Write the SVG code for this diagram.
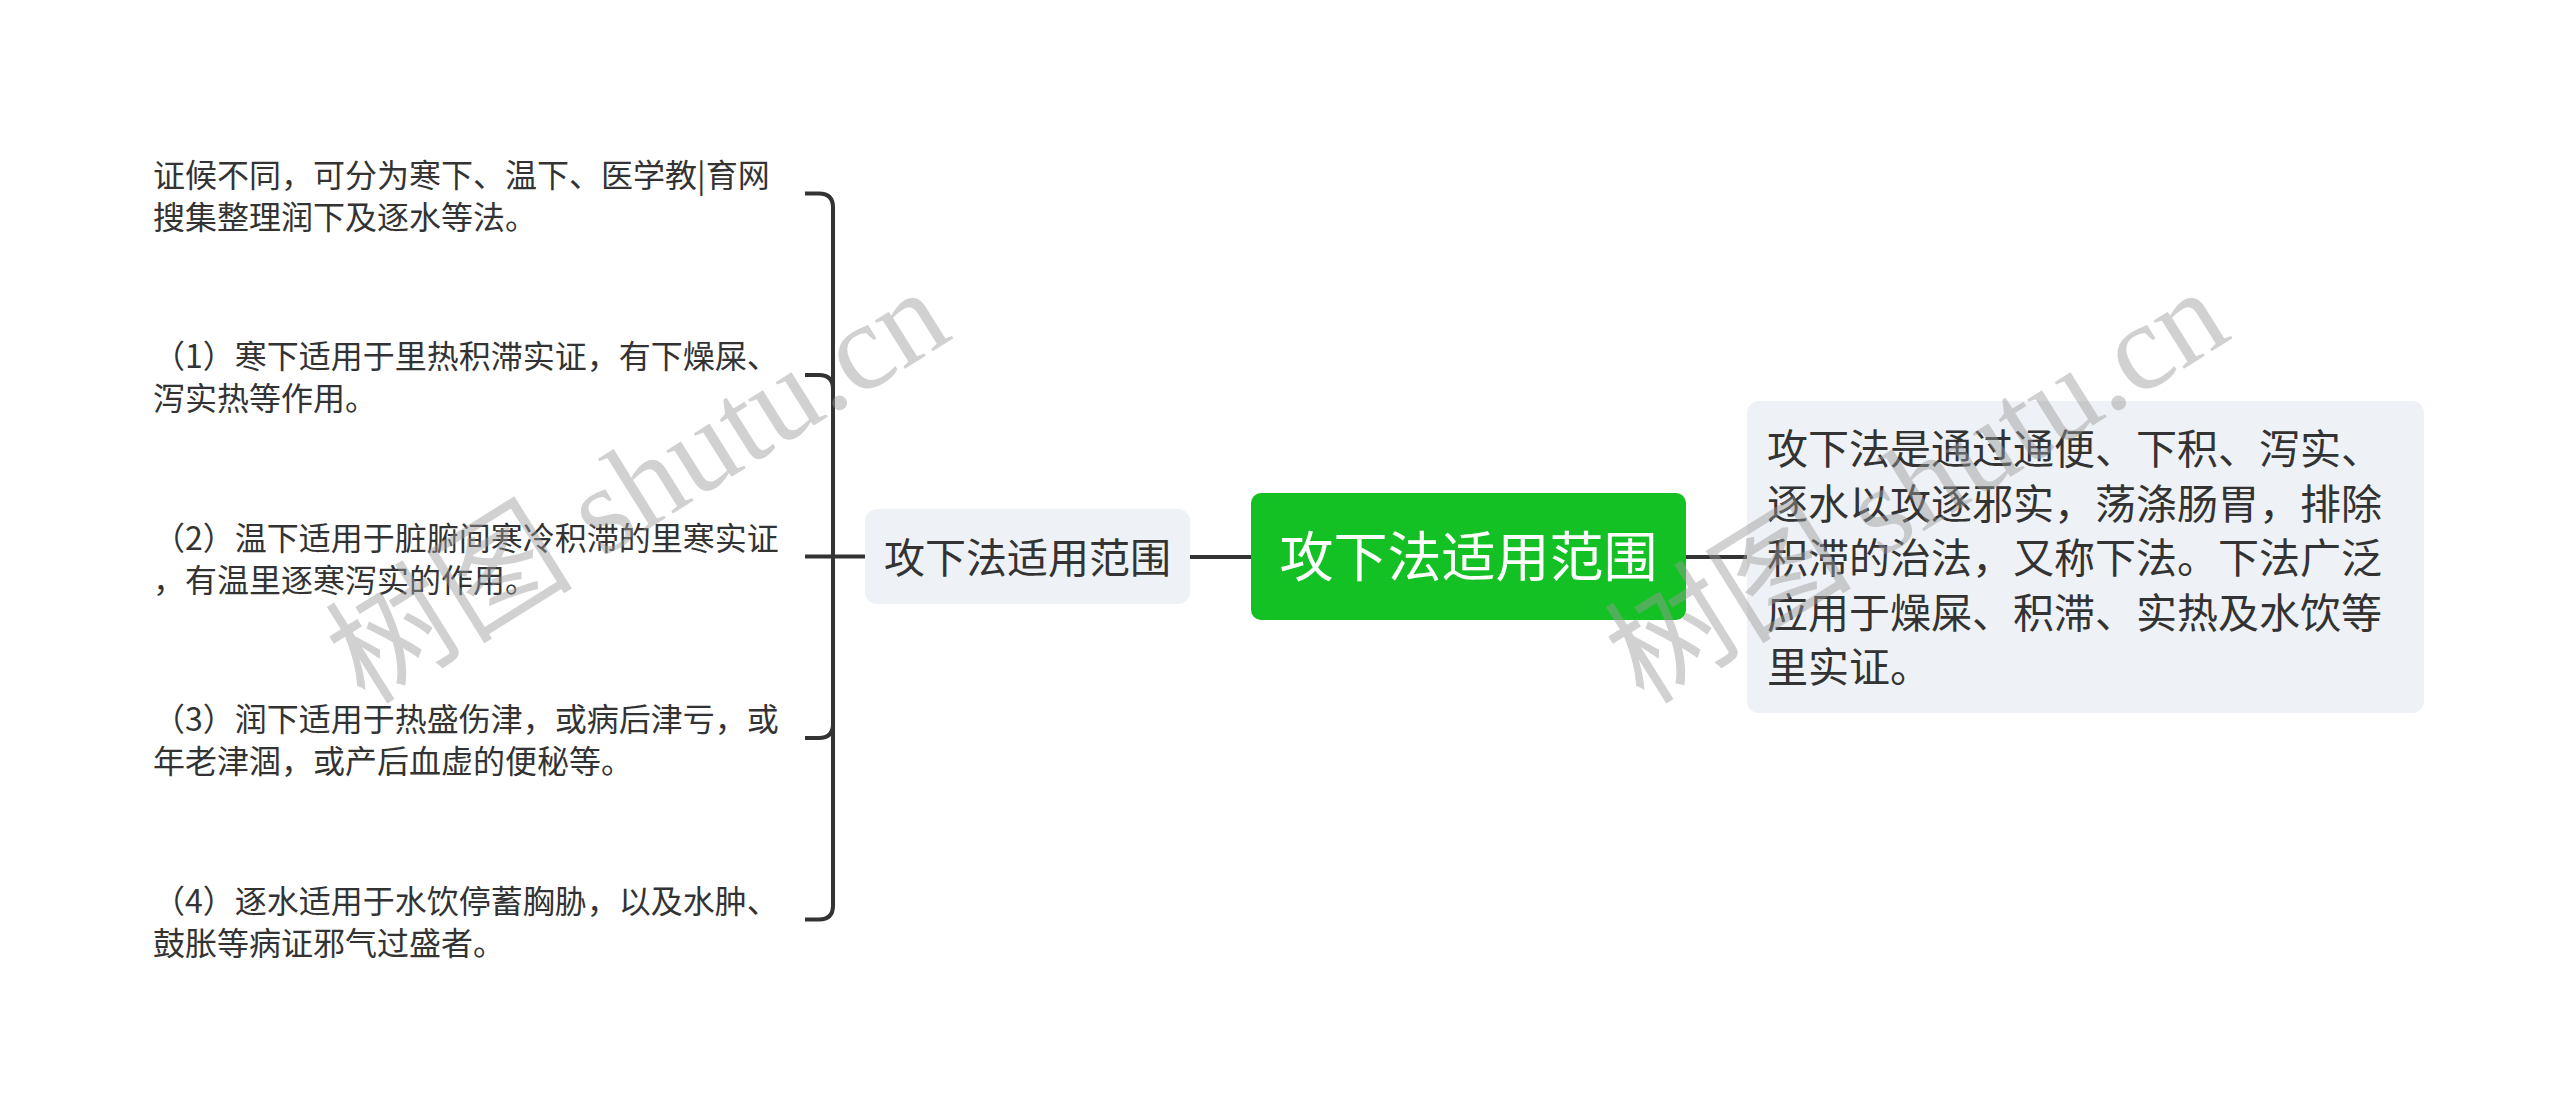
<svg xmlns="http://www.w3.org/2000/svg" width="2560" height="1114" viewBox="0 0 2560 1114">
<style>
.bg{fill:#ffffff}
.conn{fill:none;stroke:#333333;stroke-width:4;stroke-linecap:butt;stroke-linejoin:round}
.root{fill:#13c124}
.sub{fill:#eef1f5}
.t{font-family:"Noto Sans CJK SC","Noto Sans",sans-serif;fill:#333333}
.rt{font-family:"Noto Sans CJK SC","Noto Sans",sans-serif;fill:#ffffff;font-size:54px}
.leaf{font-size:32px}
.mid{font-size:41px}
.wm{font-family:"Liberation Serif","Noto Sans CJK SC",serif;font-size:124px;fill:#9a9a9a;opacity:0.45}
</style>
<rect class="bg" x="0" y="0" width="2560" height="1114"/>
<g id="connectors">
<path class="conn" d="M1190 557 H1251"/>
<path class="conn" d="M1686 557 H1747"/>
<path class="conn" d="M865 556.5 H833 V207.5 Q833 193.5 819 193.5 H805"/>
<path class="conn" d="M833 389 Q833 375 819 375 H805"/>
<path class="conn" d="M833 556.5 H805"/>
<path class="conn" d="M833 556.5 V905.5 Q833 919.5 819 919.5 H805"/>
<path class="conn" d="M833 724 Q833 738 819 738 H805"/>
</g>
<g id="node-root">
<rect class="root" x="1251" y="493" width="435" height="127" rx="10"/>
<text class="rt" x="1468.5" y="576.5" text-anchor="middle">攻下法适用范围</text>
</g>
<g id="node-left">
<rect class="sub" x="865" y="509" width="325" height="95" rx="12"/>
<text class="t mid" x="1027.5" y="573" text-anchor="middle">攻下法适用范围</text>
</g>
<g id="node-right">
<rect class="sub" x="1747" y="401" width="677" height="312" rx="12"/>
<text class="t mid" x="1767" y="464">攻下法是通过通便、下积、泻实、</text>
<text class="t mid" x="1767" y="518.5">逐水以攻逐邪实，荡涤肠胃，排除</text>
<text class="t mid" x="1767" y="573">积滞的治法，又称下法。下法广泛</text>
<text class="t mid" x="1767" y="627.5">应用于燥屎、积滞、实热及水饮等</text>
<text class="t mid" x="1767" y="682">里实证。</text>
</g>
<g id="leaf-0">
<text class="t leaf" x="153" y="186.5">证候不同，可分为寒下、温下、医学教|育网</text>
<text class="t leaf" x="153" y="228.5">搜集整理润下及逐水等法。</text>
</g>
<g id="leaf-1">
<text class="t leaf" x="153" y="368">（1）寒下适用于里热积滞实证，有下燥屎、</text>
<text class="t leaf" x="153" y="410">泻实热等作用。</text>
</g>
<g id="leaf-2">
<text class="t leaf" x="153" y="549.5">（2）温下适用于脏腑间寒冷积滞的里寒实证</text>
<text class="t leaf" x="153" y="591.5">，有温里逐寒泻实的作用。</text>
</g>
<g id="leaf-3">
<text class="t leaf" x="153" y="731">（3）润下适用于热盛伤津，或病后津亏，或</text>
<text class="t leaf" x="153" y="773">年老津涸，或产后血虚的便秘等。</text>
</g>
<g id="leaf-4">
<text class="t leaf" x="153" y="912.5">（4）逐水适用于水饮停蓄胸胁，以及水肿、</text>
<text class="t leaf" x="153" y="954.5">鼓胀等病证邪气过盛者。</text>
</g>
<g id="watermarks">
<text class="wm" x="365" y="706" transform="rotate(-32 365 706)">树图 shutu.cn</text>
<text class="wm" x="1644" y="706" transform="rotate(-32 1644 706)">树图 shutu.cn</text>
</g>
</svg>
